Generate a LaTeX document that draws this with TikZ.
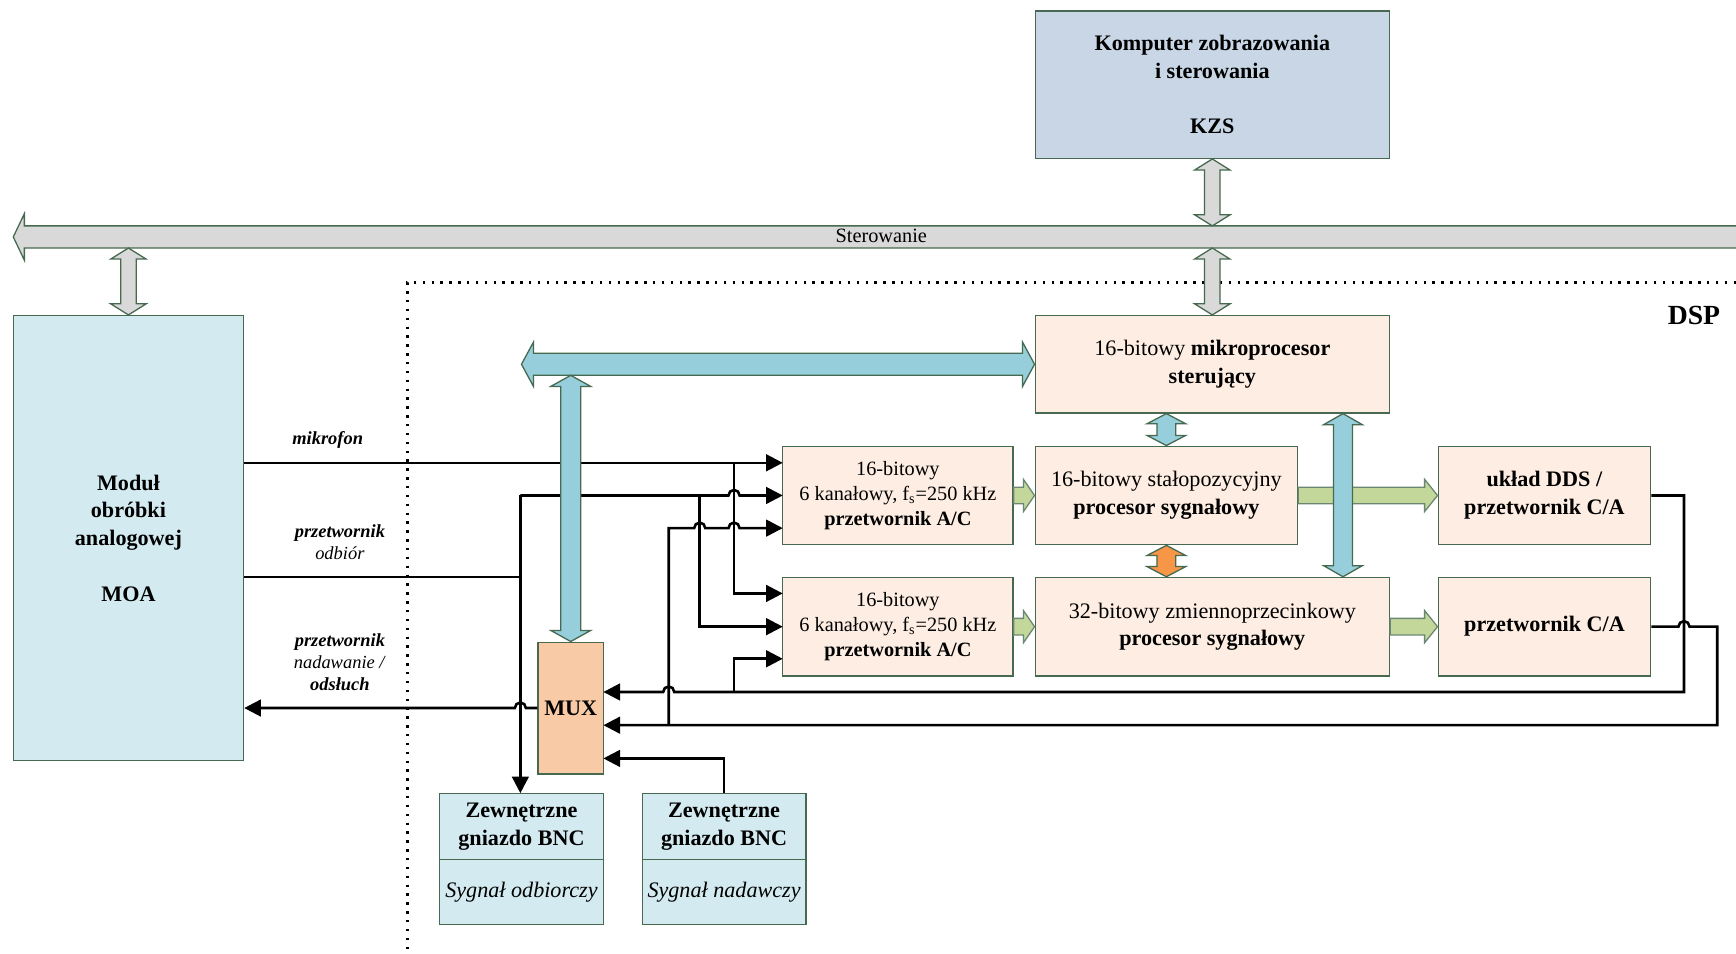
\documentclass[tikz,border=0pt]{standalone}
\usepackage{fontspec}
\setmainfont{Liberation Serif}
\usepackage{tikz}
\usetikzlibrary{arrows.meta,calc}

\definecolor{bord}{RGB}{70,105,80}
\definecolor{kzsblue}{RGB}{200,214,229}
\definecolor{lightcyan}{RGB}{210,234,240}
\definecolor{peach}{RGB}{253,237,226}
\definecolor{muxorange}{RGB}{248,203,166}
\definecolor{busgray}{RGB}{217,217,217}
\definecolor{arrblue}{RGB}{150,206,220}
\definecolor{arrgreen}{RGB}{196,215,155}
\definecolor{arrorange}{RGB}{247,150,70}

% block arrows: #1 start, #2 end, #3 style, #4 half shaft, #5 half head, #6 head length
\newcommand{\updownarr}[6]{%
  \filldraw[#3] let \p1=#1, \p2=#2 in
    (\x1,\y1) -- (\x1+#5,\y1+#6) -- (\x1+#4,\y1+#6) -- (\x1+#4,\y2-#6) -- (\x1+#5,\y2-#6)
    -- (\x1,\y2) -- (\x1-#5,\y2-#6) -- (\x1-#4,\y2-#6) -- (\x1-#4,\y1+#6) -- (\x1-#5,\y1+#6) -- cycle;}
\newcommand{\leftrightarr}[6]{%
  \filldraw[#3] let \p1=#1, \p2=#2 in
    (\x1,\y1) -- (\x1+#6,\y1+#5) -- (\x1+#6,\y1+#4) -- (\x2-#6,\y1+#4) -- (\x2-#6,\y1+#5)
    -- (\x2,\y1) -- (\x2-#6,\y1-#5) -- (\x2-#6,\y1-#4) -- (\x1+#6,\y1-#4) -- (\x1+#6,\y1-#5) -- cycle;}
\newcommand{\rightarr}[6]{%
  \filldraw[#3] let \p1=#1, \p2=#2 in
    (\x1,\y1+#4) -- (\x2-#6,\y1+#4) -- (\x2-#6,\y1+#5) -- (\x2,\y1)
    -- (\x2-#6,\y1-#5) -- (\x2-#6,\y1-#4) -- (\x1,\y1-#4) -- cycle;}

\begin{document}
\begin{tikzpicture}[x=0.6pt,y=0.6pt,yscale=-1,xscale=1,
  box/.style={draw=bord,line width=0.7pt,inner sep=0pt,align=center,font=\fontsize{12}{15}\selectfont},
  acbox/.style={box,fill=peach,minimum width=124.8pt,minimum height=53.4pt,font=\fontsize{11}{13.5}\selectfont},
  sig/.style={line width=1.4pt,-{Triangle[length=9pt,width=9pt]}},
  wire/.style={line width=1.4pt},
  lbl/.style={inner sep=0pt,align=center,font=\fontsize{10}{12}\selectfont},
  blockgray/.style={draw=bord,line width=0.7pt,fill=busgray},
  blockblue/.style={draw=bord,line width=0.7pt,fill=arrblue},
  blockgreen/.style={draw=bord!80,line width=0.7pt,fill=arrgreen},
  blockorange/.style={draw=bord,line width=0.7pt,fill=arrorange}]
        \useasboundingbox (0,0) rectangle (1568,861);

        %Shape: Rectangle
        \node[box,fill=kzsblue,minimum width=192pt,minimum height=79.8pt] (kzs) at (1095,76.5)
          {\textbf{Komputer zobrazowania}\\\textbf{i sterowania}\\[15pt]\textbf{KZS}};
        %Shape: Rectangle
        \node[box,fill=lightcyan,minimum width=124.8pt,minimum height=241.2pt] (moa) at (116,486)
          {\textbf{Moduł}\\\textbf{obróbki}\\\textbf{analogowej}\\[15pt]\textbf{MOA}};
        %Shape: Rectangle
        \node[box,fill=peach,minimum width=192pt,minimum height=52.8pt] (mp) at (1095,329)
          {16-bitowy \textbf{mikroprocesor}\\\textbf{sterujący}};
        %Shape: Rectangle
        \node[acbox] (ac1) at (811,447.5)
          {16-bitowy\\6 kanałowy, f\textsubscript{s}=250 kHz\\\textbf{przetwornik A/C}};
        \node[acbox] (ac2) at (811,566)
          {16-bitowy\\6 kanałowy, f\textsubscript{s}=250 kHz\\\textbf{przetwornik A/C}};
        %Shape: Rectangle
        \node[box,fill=peach,minimum width=142.2pt,minimum height=53.4pt] (dsp16) at (1053.5,447.5)
          {16-bitowy stałopozycyjny\\\textbf{procesor sygnałowy}};
        \node[box,fill=peach,minimum width=192pt,minimum height=53.4pt] (dsp32) at (1095,566)
          {32-bitowy zmiennoprzecinkowy\\\textbf{procesor sygnałowy}};
        %Shape: Rectangle
        \node[box,fill=peach,minimum width=115.2pt,minimum height=53.4pt] (dds) at (1395,447.5)
          {\textbf{układ DDS /}\\\textbf{przetwornik C/A}};
        \node[box,fill=peach,minimum width=115.2pt,minimum height=53.4pt] (ca) at (1395,566)
          {\textbf{przetwornik C/A}};
        %Shape: Rectangle
        \node[box,fill=muxorange,minimum width=35.4pt,minimum height=71.4pt] (mux) at (515.5,639.5)
          {\textbf{MUX}};
        %Shape: Rectangle
        \node[box,fill=lightcyan,minimum width=88.8pt,minimum height=70.8pt] (bnc1) at (471,776) {};
        \node[box,fill=lightcyan,minimum width=88.8pt,minimum height=70.8pt] (bnc2) at (654,776) {};
        \draw[draw=bord,line width=0.7pt] (bnc1.west) -- (bnc1.east);
        \draw[draw=bord,line width=0.7pt] (bnc2.west) -- (bnc2.east);
        % Text Node
        \node[box,draw=none] (bnc1t) at (471,746.5) {\textbf{Zewnętrzne}\\\textbf{gniazdo BNC}};
        \node[box,draw=none] (bnc1s) at (471,806) {\textit{Sygnał odbiorczy}};
        \node[box,draw=none] (bnc2t) at (654,746.5) {\textbf{Zewnętrzne}\\\textbf{gniazdo BNC}};
        \node[box,draw=none] (bnc2s) at (654,806) {\textit{Sygnał nadawczy}};

        % Text Node
        \node[lbl] (lmic) at (296,397) {\textbf{\textit{mikrofon}}};
        \node[lbl] (lodb) at (307,490) {\textbf{\textit{przetwornik}}\\\textit{odbiór}};
        \node[lbl] (lnad) at (307,598) {\textbf{\textit{przetwornik}}\\\textit{nadawanie /}\\\textbf{\textit{odsłuch}}};
        \node[font=\fontsize{15}{18}\selectfont\bfseries,inner sep=0pt] (dsp) at (1530,285) {DSP};

        %Dotted Lines
        \draw[line width=1.3pt,dash pattern=on 1.3pt off 3.5pt] (1568,255) -- (368,255) -- (368,861);

        %Shape: Left Arrow (bus)
        \coordinate (bustop) at (0,204);
        \coordinate (busbot) at (0,224);
        \fill[busgray] (1568,204) -- (22,204) -- (22,193) -- (12,214) -- (22,235) -- (22,224) -- (1568,224) -- cycle;
        \draw[bord,line width=0.7pt] (1568,204) -- (22,204) -- (22,193) -- (12,214) -- (22,235) -- (22,224) -- (1568,224);
        \node[font=\fontsize{11}{13}\selectfont,inner sep=0pt] (ster) at (796,213) {Sterowanie};

        %Shape: Up Down Arrow
        \updownarr{(kzs.south)}{(kzs.south |- bustop)}{blockgray}{4.2pt}{9.6pt}{6pt}
        \updownarr{(mp.north |- busbot)}{(mp.north)}{blockgray}{4.2pt}{9.6pt}{6pt}
        \updownarr{(moa.north |- busbot)}{(moa.north)}{blockgray}{4.2pt}{9.6pt}{6pt}

        % port coordinates
        \coordinate (a1) at (707,418);
        \coordinate (a2) at (707,447.5);
        \coordinate (a3) at (707,477);
        \coordinate (b1) at (707,536);
        \coordinate (b2) at (707,566);
        \coordinate (b3) at (707,595);
        \coordinate (m1) at (545,625);
        \coordinate (m2) at (545,655);
        \coordinate (m3) at (545,685);
        \coordinate (jm) at (663,418);
        \coordinate (jo) at (470,521);
        \coordinate (jt) at (470,447.5);
        \coordinate (jb) at (632,447.5);
        \coordinate (jc) at (604,655);
        \coordinate (jd) at (663,625);

        %Straight Lines
        \draw[sig] (moa.east |- a1) -- (a1);
        \draw[sig] (jm) |- (b1);
        \draw[wire] (moa.east |- jo) -- (jo);
        \draw[sig] (jt) -- (jt |- bnc1.north);
        \draw[sig] (jt) -- (658,447.5) arc[start angle=180,end angle=360,radius=5] -- (a2);
        \draw[sig] (jb) |- (b2);
        \draw[sig] (jc) -- (604,477) -- (627,477) arc[start angle=180,end angle=360,radius=5]
          -- (658,477) arc[start angle=180,end angle=360,radius=5] -- (a3);
        \draw[sig] (dds.east) -- (1521,447.5) -- (1521,625) -- (609,625)
          arc[start angle=0,end angle=-180,radius=5] -- (m1);
        \draw[sig] (jd) |- (b3);
        \draw[sig] (ca.east) -- (1516,566) arc[start angle=180,end angle=360,radius=5]
          -- (1551,566) -- (1551,655) -- (m2);
        \draw[sig] (bnc2.north) |- (m3);
        \draw[sig] (mux.west) -- (475,639.5) arc[start angle=0,end angle=-180,radius=5]
          -- (moa.east |- mux.west);

        %Shape: Right Arrow
        \rightarr{(ac1.east)}{(dsp16.west)}{blockgreen}{4.5pt}{8.7pt}{6pt}
        \rightarr{(ac2.east)}{(dsp32.west |- ac2.east)}{blockgreen}{4.5pt}{8.7pt}{6pt}
        \rightarr{(dsp16.east)}{(dds.west)}{blockgreen}{4.5pt}{8.7pt}{7pt}
        \rightarr{(dsp32.east |- ca.west)}{(ca.west)}{blockgreen}{4.5pt}{8.7pt}{7pt}

        %Shape: Left Right Arrow
        \coordinate (bl) at (471,329);
        \coordinate (bv) at (515.5,339);
        \coordinate (bx) at (1213,0);
        \leftrightarr{(bl)}{(mp.west)}{blockblue}{6pt}{12pt}{6.5pt}
        %Shape: Up Down Arrow
        \updownarr{(bv)}{(mux.north)}{blockblue}{5.4pt}{10.8pt}{6pt}
        \updownarr{(dsp16.north |- mp.south)}{(dsp16.north)}{blockblue}{5.1pt}{10.5pt}{5.5pt}
        \updownarr{(bx |- mp.south)}{(bx |- dsp32.north)}{blockblue}{5.1pt}{10.5pt}{6pt}
        \updownarr{(dsp16.south)}{(dsp16.south |- dsp32.north)}{blockorange}{5.1pt}{10.5pt}{5.5pt}

\end{tikzpicture}
\end{document}
